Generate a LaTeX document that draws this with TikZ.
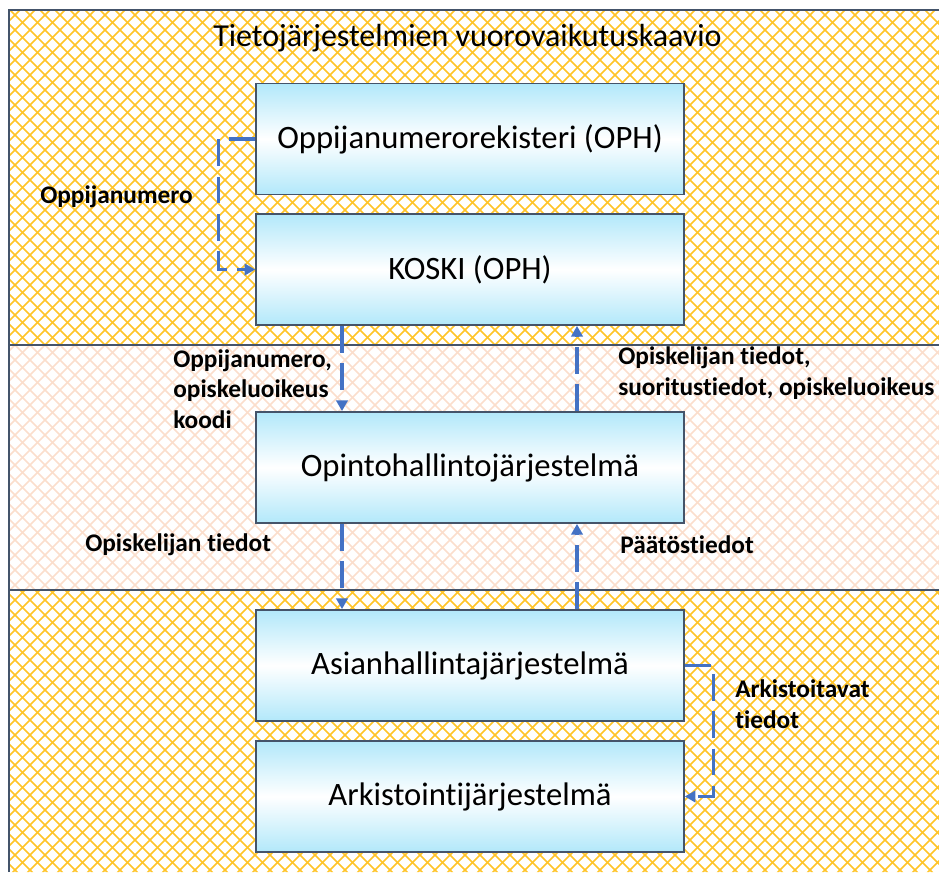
\documentclass[tikz,border=0pt]{standalone}
\usepackage{fontspec}
\setmainfont{Carlito}[Ligatures={NoCommon}]
\usetikzlibrary{arrows.meta,calc,backgrounds}

\definecolor{hatchyellow}{RGB}{255,196,40}
\definecolor{hatchpeach}{RGB}{251,222,204}
\definecolor{frameblue}{RGB}{68,84,106}
\definecolor{boxcyan}{RGB}{178,232,250}
\definecolor{flowblue}{RGB}{68,114,196}

\tikzset{
  sysbox/.style={draw=frameblue,line width=1.1pt,top color=boxcyan,bottom color=boxcyan,middle color=white,
    minimum width=321pt,minimum height=83.5pt,inner sep=0pt,font=\fontsize{24.5}{28}\selectfont},
  flow/.style={draw=flowblue,line width=2.5pt,dash pattern=on 20pt off 8pt,-{Triangle[length=8pt,width=8.5pt]}},
  lbl/.style={anchor=west,inner sep=0pt,align=left,font=\bfseries\fontsize{19}{23}\selectfont},
  hatch/.style={line width=1.2pt}
}

\begin{document}
\begin{tikzpicture}[x=0.75pt,y=0.75pt,yscale=-1,xscale=1]
\useasboundingbox (0,0) rectangle (939,872);

%Shape: Hatched bands
\begin{scope}
\clip (9,10) rectangle (939,345) (9,590) rectangle (939,872);
\foreach \c in {-900,-885,...,1860} {
  \draw[hatch,hatchyellow] (\c,0) -- ++(900,900);
  \draw[hatch,hatchyellow] (\c,0) -- ++(-900,900);
}
\end{scope}
\begin{scope}
\clip (9,345) rectangle (939,590);
\foreach \c in {-900,-885,...,1860} {
  \draw[hatch,hatchpeach] (\c,0) -- ++(900,900);
  \draw[hatch,hatchpeach] (\c,0) -- ++(-900,900);
}
\end{scope}

%Straight Lines: frame and band borders
\draw[frameblue,line width=1.1pt] (9,872) -- (9,10) -- (939,10) ;
\draw[frameblue,line width=1.1pt] (9,345) -- (939,345) ;
\draw[frameblue,line width=1.1pt] (9,590) -- (939,590) ;

% Text Node
\node[anchor=west,inner sep=0pt,font=\fontsize{24}{28}\selectfont] (title) at (213,38) {Tietojärjestelmien vuorovaikutuskaavio};

%Shape: Systems
\node[sysbox] (opr) at (470,139) {Oppijanumerorekisteri (OPH)};
\node[sysbox] (koski) at (470,269.5) {KOSKI (OPH)};
\node[sysbox] (ohj) at (470,467.5) {Opintohallintojärjestelmä};
\node[sysbox] (ahj) at (470,665.5) {Asianhallintajärjestelmä};
\node[sysbox] (arkisto) at (470,796.5) {Arkistointijärjestelmä};

%Straight Lines: data flows
\draw[flow] (opr.west) -- ++(-37,0) |- (koski.west) ;
\draw[flow] ($(koski.south)+(-128,0)$) -- ($(ohj.north)+(-128,0)$) ;
\draw[flow] ($(ohj.north)+(107,0)$) -- ($(koski.south)+(107,0)$) ;
\draw[flow] ($(ohj.south)+(-128,0)$) -- ($(ahj.north)+(-128,0)$) ;
\draw[flow] ($(ahj.north)+(107,0)$) -- ($(ohj.south)+(107,0)$) ;
\draw[flow] (ahj.east) -- ++(29,0) |- (arkisto.east) ;

% Text Node
\node[lbl] (l1) at (40,197) {Oppijanumero};
% Text Node
\node[lbl] (l2) at (173,389) {Oppijanumero,\\opiskeluoikeus\\koodi};
% Text Node
\node[lbl] (l3) at (618,373) {Opiskelijan tiedot,\\suoritustiedot, opiskeluoikeus};
% Text Node
\node[lbl] (l4) at (85,545) {Opiskelijan tiedot};
% Text Node
\node[lbl] (l5) at (620,545) {Päätöstiedot};
% Text Node
\node[lbl] (l6) at (735,704) {Arkistoitavat\\tiedot};

\end{tikzpicture}
\end{document}
